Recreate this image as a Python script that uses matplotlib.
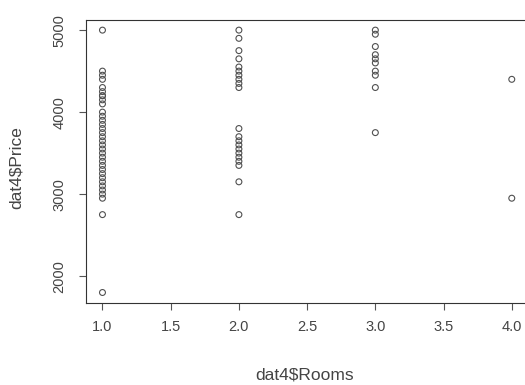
import matplotlib.pyplot as plt
import numpy as np

# values
rooms_1 = [5000, 4500, 4450, 4400, 4300, 4250, 4200, 4200, 4150, 4100, 4000, 3950,
           3900, 3850, 3800, 3750, 3700, 3650, 3600, 3550, 3500, 3450, 3400, 3350,
           3300, 3250, 3200, 3150, 3100, 3050, 3000, 2950, 2750, 1800]
rooms_2 = [5000, 4900, 4750, 4650, 4550, 4500, 4450, 4400, 4350, 4300,
           3800, 3700, 3650, 3600, 3550, 3500, 3450, 3400, 3350, 3150, 2750]
rooms_3 = [5000, 4950, 4800, 4700, 4650, 4600, 4500, 4450, 4300, 3750]
rooms_4 = [4400, 2950]

rooms = [1] * len(rooms_1) + [2] * len(rooms_2) + [3] * len(rooms_3) + [4] * len(rooms_4)
price = rooms_1 + rooms_2 + rooms_3 + rooms_4

xticks = [1.0, 1.5, 2.0, 2.5, 3.0, 3.5, 4.0]
yticks = [2000, 3000, 4000, 5000]

txt = '#444444'
plt.rcParams['font.family'] = ['Liberation Sans', 'DejaVu Sans']

fig = plt.figure(figsize=(5.25, 3.85), dpi=100)
ax = fig.add_axes([0.164, 0.213, 0.842, 0.736])

ax.scatter(rooms, price, s=18, facecolors='none', edgecolors='#505050', linewidths=0.8)

# R style 4% padding
ax.set_xlim(1 - 0.12, 4 + 0.12)
ax.set_ylim(1800 - 128, 5000 + 128)

ax.set_xticks(xticks)
ax.set_xticklabels(['%.1f' % t for t in xticks])
ax.set_yticks(yticks)
ax.set_yticklabels([str(t) for t in yticks], rotation=90, va='center')

ax.tick_params(direction='out', length=5, width=0.8, colors='#555555', labelcolor=txt,
               labelsize=10.5, pad=7)
ax.tick_params(axis='y', pad=9)
for s in ax.spines.values():
    s.set_color('#333333')
    s.set_linewidth(0.8)

# axis titles placed like R's default margins
fig.text(305 / 525, 1 - 375 / 385, 'dat4$Rooms', color=txt, fontsize=12.5,
         ha='center', va='center')
fig.text(16 / 525, 1 - 168 / 385, 'dat4$Price', color=txt, fontsize=12.5,
         ha='center', va='center', rotation=90)

fig.savefig('out.png', dpi=100)
